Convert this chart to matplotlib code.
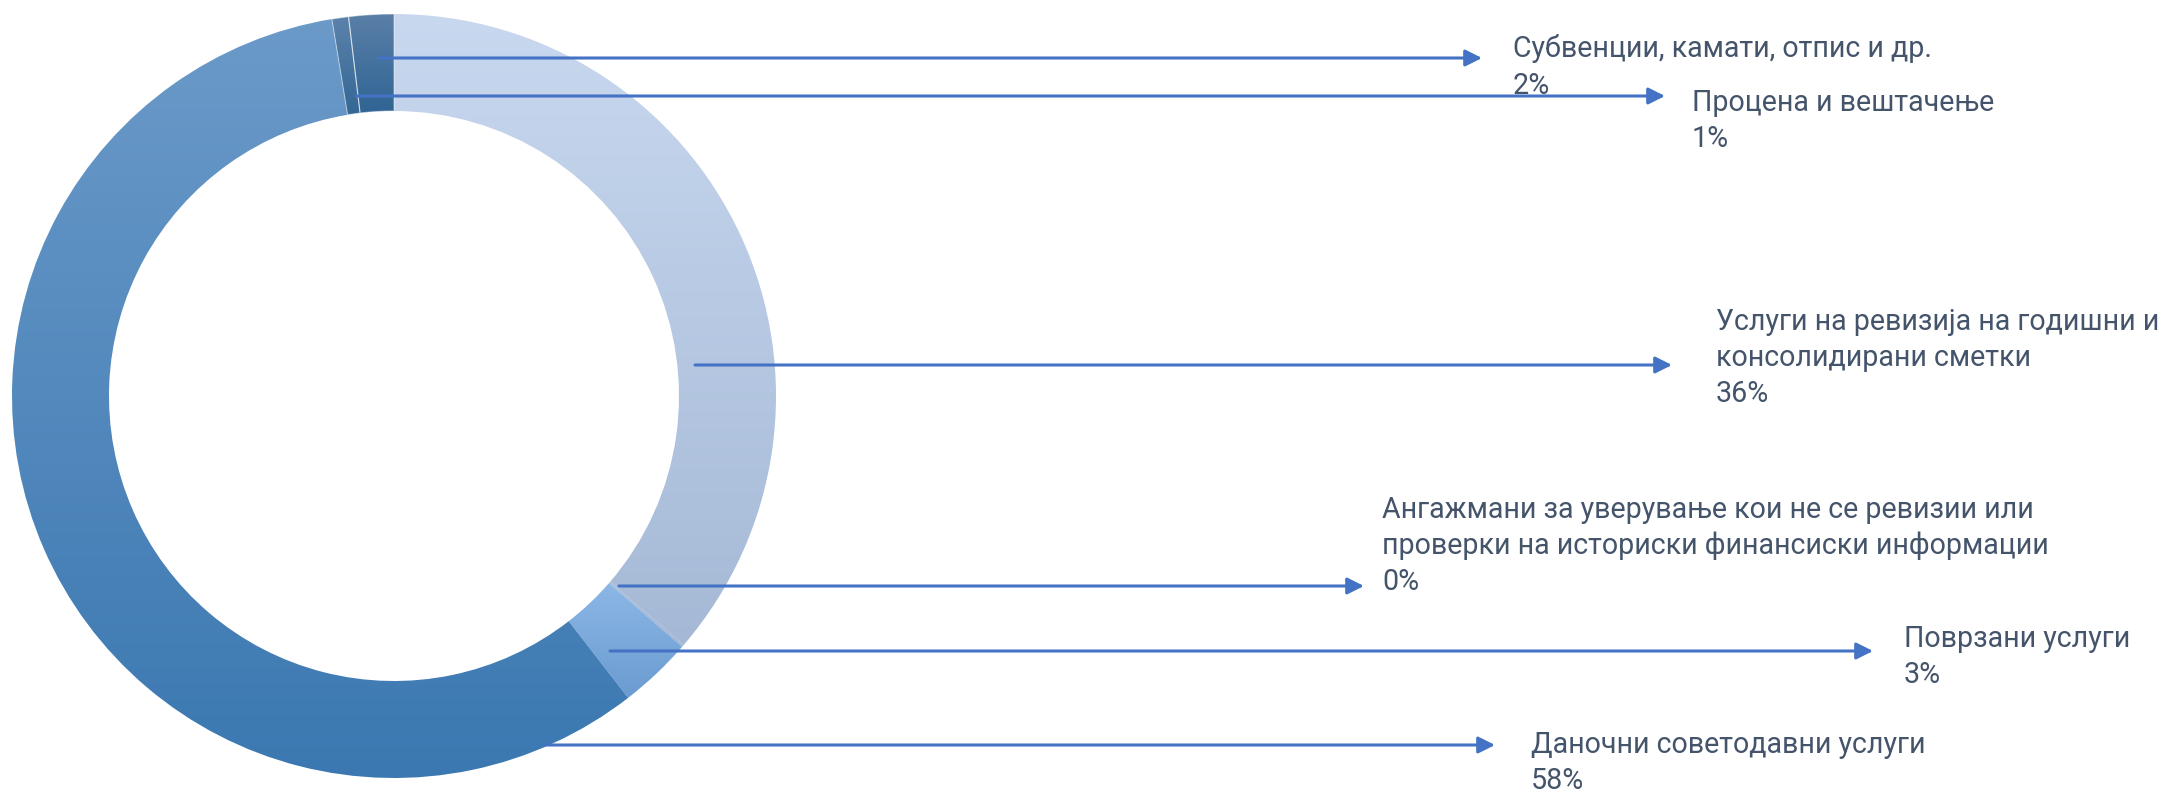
import numpy as np
import matplotlib
matplotlib.use("Agg")
import matplotlib.pyplot as plt
from matplotlib.colors import LinearSegmentedColormap

# ---- data ----
categories = [
    "Услуги на ревизија на годишни и\nконсолидирани сметки",
    "Ангажмани за уверување кои не се ревизии или\nпроверки на историски финансиски информации",
    "Поврзани услуги",
    "Даночни советодавни услуги",
    "Процена и вештачење",
    "Субвенции, камати, отпис и др.",
]
values = [36.3, 0.1, 3.1, 57.9, 0.7, 1.9]

# ---- style / layout ----
W, H = 2170, 799
grad_colors = [
    ("#C8D8EF", "#A5B9D6"),
    ("#A9BDDA", "#A2B6D4"),
    ("#8CB8E6", "#6A9AD0"),
    ("#6B9AC9", "#3B78B1"),
    ("#5C82AB", "#336795"),
    ("#5B80A8", "#2F6494"),
]
# leader line start (px, from top), arrow tip x, text x, text center y
layout = [
    ((695, 365), 1672, 1716, 358),
    ((619, 586), 1364, 1382, 546),
    ((610, 651), 1873, 1904, 657),
    ((545, 745), 1495, 1531, 763),
    ((356, 96), 1665, 1692, 121),
    ((378, 58), 1482, 1513, 67),
]
cx, cy, R, Rin = 394, 396, 382, 285
FAMILY = ["Roboto", "DejaVu Sans"]

fig = plt.figure(figsize=(W / 100, H / 100), dpi=100)
ax = fig.add_axes([0, 0, 1, 1])

def fy(y):
    return H - y

wedges, _ = ax.pie(values, center=(cx, fy(cy)), radius=R, startangle=90,
                   counterclock=False, frame=True,
                   wedgeprops=dict(width=R - Rin, edgecolor="none", linewidth=0))
ax.set_xlim(0, W)
ax.set_ylim(0, H)
ax.set_aspect("auto")
ax.axis("off")

grad = np.linspace(0, 1, 256).reshape(-1, 1)
for w, (ctop, cbot) in zip(wedges, grad_colors):
    w.set_facecolor("none")
    bb = w.get_path().get_extents()
    cmap = LinearSegmentedColormap.from_list("g", [ctop, cbot])
    im = ax.imshow(grad, cmap=cmap, aspect="auto",
                   extent=(bb.x0 - 2, bb.x1 + 2, bb.y0 - 2, bb.y1 + 2),
                   origin="upper", zorder=1)
    im.set_clip_path(w)

for w in wedges[4:]:
    w.set_edgecolor((1, 1, 1, 0.45))
    w.set_linewidth(0.8)
    w.set_zorder(2)

ax.set_xlim(0, W)
ax.set_ylim(0, H)

# fit font size so the widest first line matches the reference width (~443 px)
renderer = fig.canvas.get_renderer()
probe = ax.text(0, 0, "Услуги на ревизија на годишни и", fontsize=20, family=FAMILY)
wpx = probe.get_window_extent(renderer).width
probe.remove()
fs = 20 * 443 / wpx

text_color = "#44546A"
line_color = "#4472C4"
for cat, val, (start, tipx, tx, ty) in zip(categories, values, layout):
    sx, sy = start
    ax.annotate("", xy=(tipx, fy(sy)), xytext=(sx, fy(sy)),
                arrowprops=dict(arrowstyle="-|>,head_length=1.0,head_width=0.5",
                                color=line_color, lw=2.2, shrinkA=0, shrinkB=0),
                zorder=5)
    label = f"{cat}\n{round(val):d}%"
    ax.text(tx, fy(ty), label, ha="left", va="center", fontsize=fs,
            color=text_color, linespacing=39 / (fs * 100 / 72),
            family=FAMILY, zorder=6)

fig.savefig("out.png", dpi=100)
